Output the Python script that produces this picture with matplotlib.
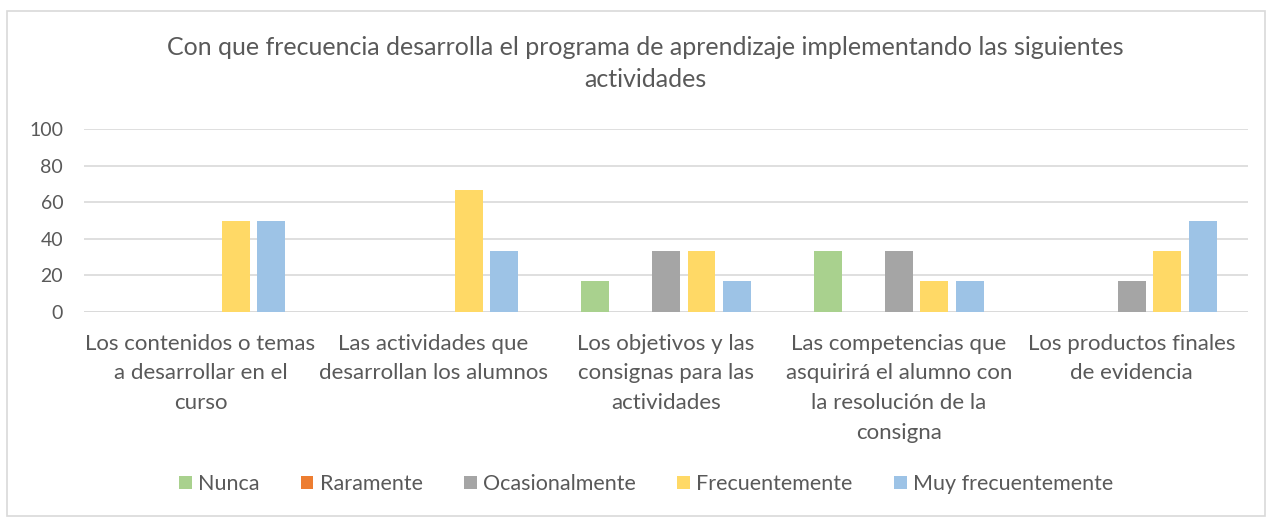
import numpy as np
import matplotlib.pyplot as plt
from matplotlib.patches import Rectangle

plt.rcParams['font.family'] = ['Lato', 'DejaVu Sans']

categorias = [
    "Los contenidos o temas\na desarrollar en el\ncurso",
    "Las actividades que\ndesarrollan los alumnos",
    "Los objetivos y las\nconsignas para las\nactividades",
    "Las competencias que\nasquirirá el alumno con\nla resolución de la\nconsigna",
    "Los productos finales\nde evidencia",
]
series = ["Nunca", "Raramente", "Ocasionalmente", "Frecuentemente", "Muy frecuentemente"]
nunca = [0, 0, 16.67, 33.33, 0]
raramente = [0, 0, 0, 0, 0]
ocasionalmente = [0, 0, 33.33, 33.33, 16.67]
frecuentemente = [50, 66.67, 33.33, 16.67, 33.33]
muy_frecuentemente = [50, 33.33, 16.67, 16.67, 50]
valores = [nunca, raramente, ocasionalmente, frecuentemente, muy_frecuentemente]
colores = ["#A9D18E", "#ED7D31", "#A5A5A5", "#FFD966", "#9DC3E6"]

texto = "#595959"

fig = plt.figure(figsize=(12.67, 5.17), dpi=100)
ax = fig.add_axes([84 / 1267, 1 - 312 / 517, (1248 - 84) / 1267, (312 - 129) / 517])

x = np.arange(len(categorias))
paso = 0.1525
ancho = 0.12
for i, (nombre, vals, c) in enumerate(zip(series, valores, colores)):
    ax.bar(x + (i - 2) * paso, vals, width=ancho, color=c, label=nombre, zorder=3)

ax.set_xlim(-0.5, len(categorias) - 0.5)
ax.set_ylim(0, 100)
ax.set_yticks(range(0, 101, 20))
ax.grid(axis='y', color='#D9D9D9', linewidth=1.2, zorder=0)
ax.set_xticks(x)
ax.set_xticklabels(categorias, fontsize=16, color=texto, linespacing=1.62)
ax.tick_params(axis='y', length=0, labelsize=14, labelcolor=texto, pad=15)
ax.tick_params(axis='x', length=0, labelcolor=texto, pad=15.5)
for s in ax.spines.values():
    s.set_visible(False)
ax.axhline(0, color='#D9D9D9', linewidth=1.2, zorder=2)

fig.text(645 / 1267, 1 - 63.5 / 517,
         "Con que frecuencia desarrolla el programa de aprendizaje implementando las siguientes\nactividades",
         ha='center', va='center', fontsize=18, color=texto, linespacing=1.52)

fig.legend(loc='center', bbox_to_anchor=(646 / 1267, 1 - 484 / 517), ncol=5, frameon=False,
           fontsize=15.5, labelcolor=texto, handlelength=0.6, handleheight=0.6,
           handletextpad=0.3, columnspacing=1.9)

fig.patches.append(Rectangle((7 / 1267, 1 / 517), 1258 / 1267, 505 / 517, transform=fig.transFigure,
                             fill=False, edgecolor='#D9D9D9', linewidth=1.2))

fig.savefig("out.png", dpi=100)
